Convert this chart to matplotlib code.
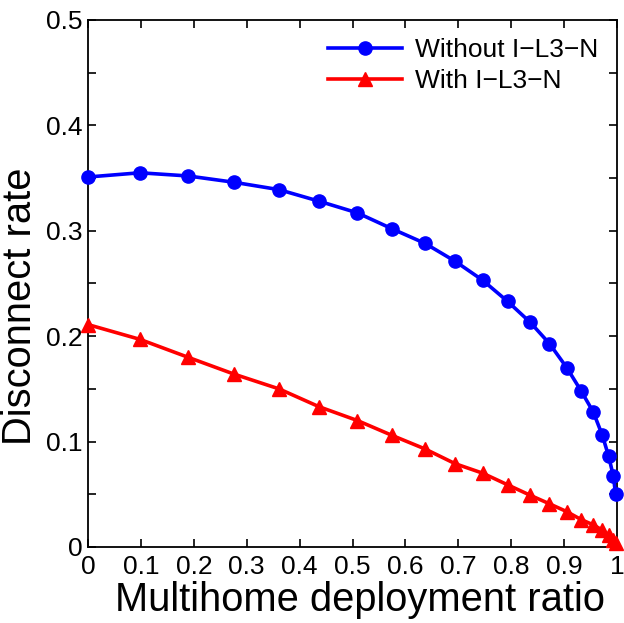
import matplotlib
matplotlib.use("Agg")
import matplotlib.pyplot as plt
from matplotlib.ticker import MultipleLocator, FuncFormatter

plt.rcParams['font.family'] = ['Liberation Sans', 'DejaVu Sans']

# deployment ratio (x positions shared by both curves)
ratio = [0.0, 0.098, 0.189, 0.276, 0.361, 0.437, 0.509, 0.574, 0.637, 0.694,
         0.746, 0.793, 0.836, 0.872, 0.905, 0.932, 0.955, 0.972, 0.984, 0.993, 0.997]
without_il3n = [0.351, 0.355, 0.352, 0.346, 0.339, 0.328, 0.317, 0.302, 0.288, 0.271,
                0.253, 0.233, 0.213, 0.193, 0.170, 0.148, 0.128, 0.106, 0.086, 0.067, 0.050]
with_il3n = [0.211, 0.197, 0.180, 0.164, 0.150, 0.133, 0.120, 0.106, 0.093, 0.079,
             0.070, 0.059, 0.049, 0.041, 0.0335, 0.026, 0.021, 0.016, 0.011, 0.007, 0.004]

fig = plt.figure(figsize=(6.24, 6.23), dpi=100)
ax = fig.add_axes([0.141, 0.122, 0.848, 0.846])

ax.plot(ratio, without_il3n, color='#0000ff', linewidth=2.6, marker='o',
        markersize=9.5, label='Without I\u2212L3\u2212N', clip_on=False, zorder=3)
ax.plot(ratio, with_il3n, color='#ff0000', linewidth=2.6, marker='^',
        markersize=10.5, label='With I\u2212L3\u2212N', clip_on=False, zorder=3)

ax.set_xlim(0, 1)
ax.set_ylim(0, 0.5)
ax.xaxis.set_major_locator(MultipleLocator(0.1))
ax.yaxis.set_major_locator(MultipleLocator(0.1))
ax.yaxis.set_minor_locator(MultipleLocator(0.05))
fmt = FuncFormatter(lambda v, p: f"{v:g}")
ax.xaxis.set_major_formatter(fmt)
ax.yaxis.set_major_formatter(fmt)
ax.tick_params(which='both', direction='in', top=True, right=True, length=6,
               width=1.2, labelsize=19)
ax.tick_params(axis='x', pad=6)
ax.tick_params(axis='y', pad=4)
for s in ax.spines.values():
    s.set_linewidth(1.3)

ax.set_xlabel("Multihome deployment ratio", fontsize=28.7)
ax.set_ylabel("Disconnect rate", fontsize=28.7)
ax.xaxis.set_label_coords(0.515, -0.065)
ax.yaxis.set_label_coords(-0.092, 0.457)

ax.legend(loc='upper right', frameon=False, fontsize=19, handlelength=2.8,
          borderaxespad=0.3, labelspacing=0.25, handletextpad=0.5)

fig.savefig("out.png", dpi=100)
